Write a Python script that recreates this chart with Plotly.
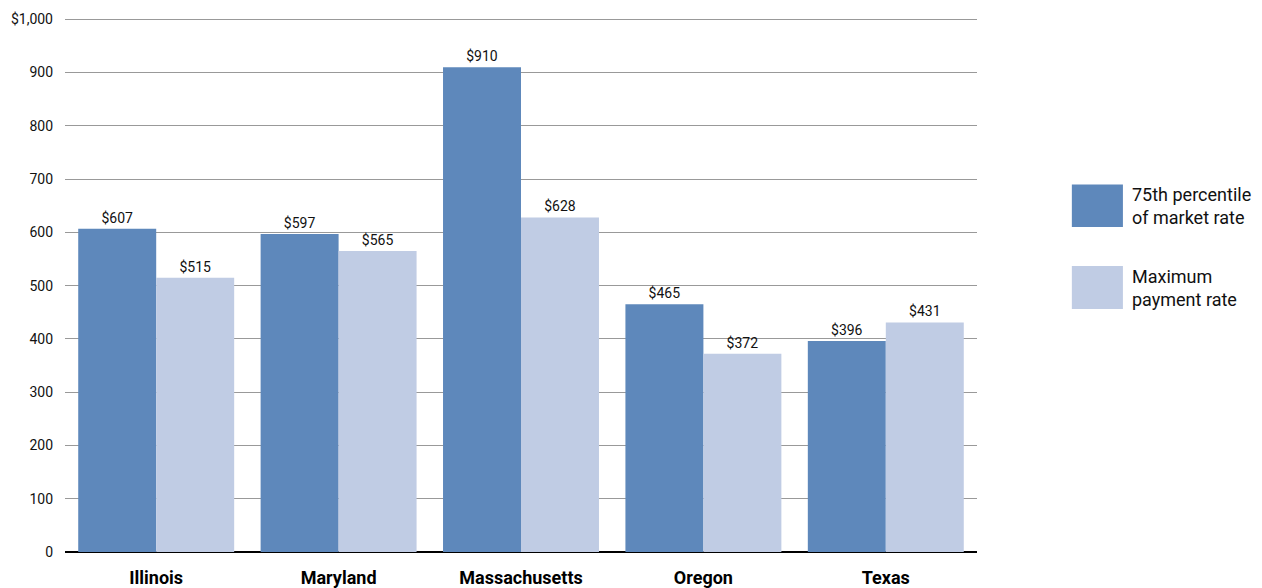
import plotly.graph_objects as go

states = ["Illinois", "Maryland", "Massachusetts", "Oregon", "Texas"]
market_75th = [607, 597, 910, 465, 396]
max_payment = [515, 565, 628, 372, 431]
y_tickvals = [0, 100, 200, 300, 400, 500, 600, 700, 800, 900, 1000]
y_ticktext = ["0", "100", "200", "300", "400", "500", "600", "700", "800", "900", "$1,000"]
legend_names = ["75th percentile<br>of market rate", "Maximum<br>payment rate"]

DARK = "#5E88BB"
LIGHT = "#C0CCE4"
FONT = "Roboto, Liberation Sans, sans-serif"

fig = go.Figure()
for vals, col in [(market_75th, DARK), (max_payment, LIGHT)]:
    fig.add_trace(go.Bar(
        x=states, y=vals, marker=dict(color=col, line=dict(width=0)),
        text=["$%d" % v for v in vals], textposition="outside",
        textfont=dict(family=FONT, size=14, color="#111111"),
        cliponaxis=False, showlegend=False,
    ))

fig.update_layout(
    width=1262, height=588,
    margin=dict(l=65, r=285, t=14, b=36),
    paper_bgcolor="white", plot_bgcolor="white",
    barmode="group", bargap=0.145, bargroupgap=0,
    font=dict(family=FONT, color="#111111"),
    xaxis=dict(
        tickvals=states, ticktext=["<b>%s</b>" % s for s in states],
        tickfont=dict(family=FONT, size=18, color="#000000"),
        showgrid=False, ticks="", ticklabelstandoff=13,
        showline=False, zeroline=False, automargin=False,
    ),
    yaxis=dict(
        range=[0, 1010], tickvals=y_tickvals, ticktext=y_ticktext,
        tickfont=dict(family=FONT, size=14, color="#111111"),
        showgrid=True, gridcolor="#999999", gridwidth=1,
        zeroline=True, zerolinecolor="#000000", zerolinewidth=2,
        ticks="", ticklabelstandoff=11, showline=False, automargin=False,
    ),
)

# custom legend (paper coords relative to plot area)
boxes = [(0.690, 0.610), (0.537, 0.456)]
for (y1, y0), col, name in zip(boxes, [DARK, LIGHT], legend_names):
    fig.add_shape(type="rect", xref="paper", yref="paper",
                  x0=1.104, x1=1.160, y0=y0 * 1000 / 1010, y1=y1 * 1000 / 1010,
                  fillcolor=col, line=dict(width=0))
    fig.add_annotation(xref="paper", yref="paper", x=1.168,
                       y=(y0 + y1) / 2 * 1000 / 1010,
                       xanchor="left", yanchor="middle", align="left",
                       text=name, showarrow=False,
                       font=dict(family=FONT, size=18, color="#111111"))

fig.write_html("out.html", config={"displayModeBar": False},
               post_script="document.body.style.margin='0';")
